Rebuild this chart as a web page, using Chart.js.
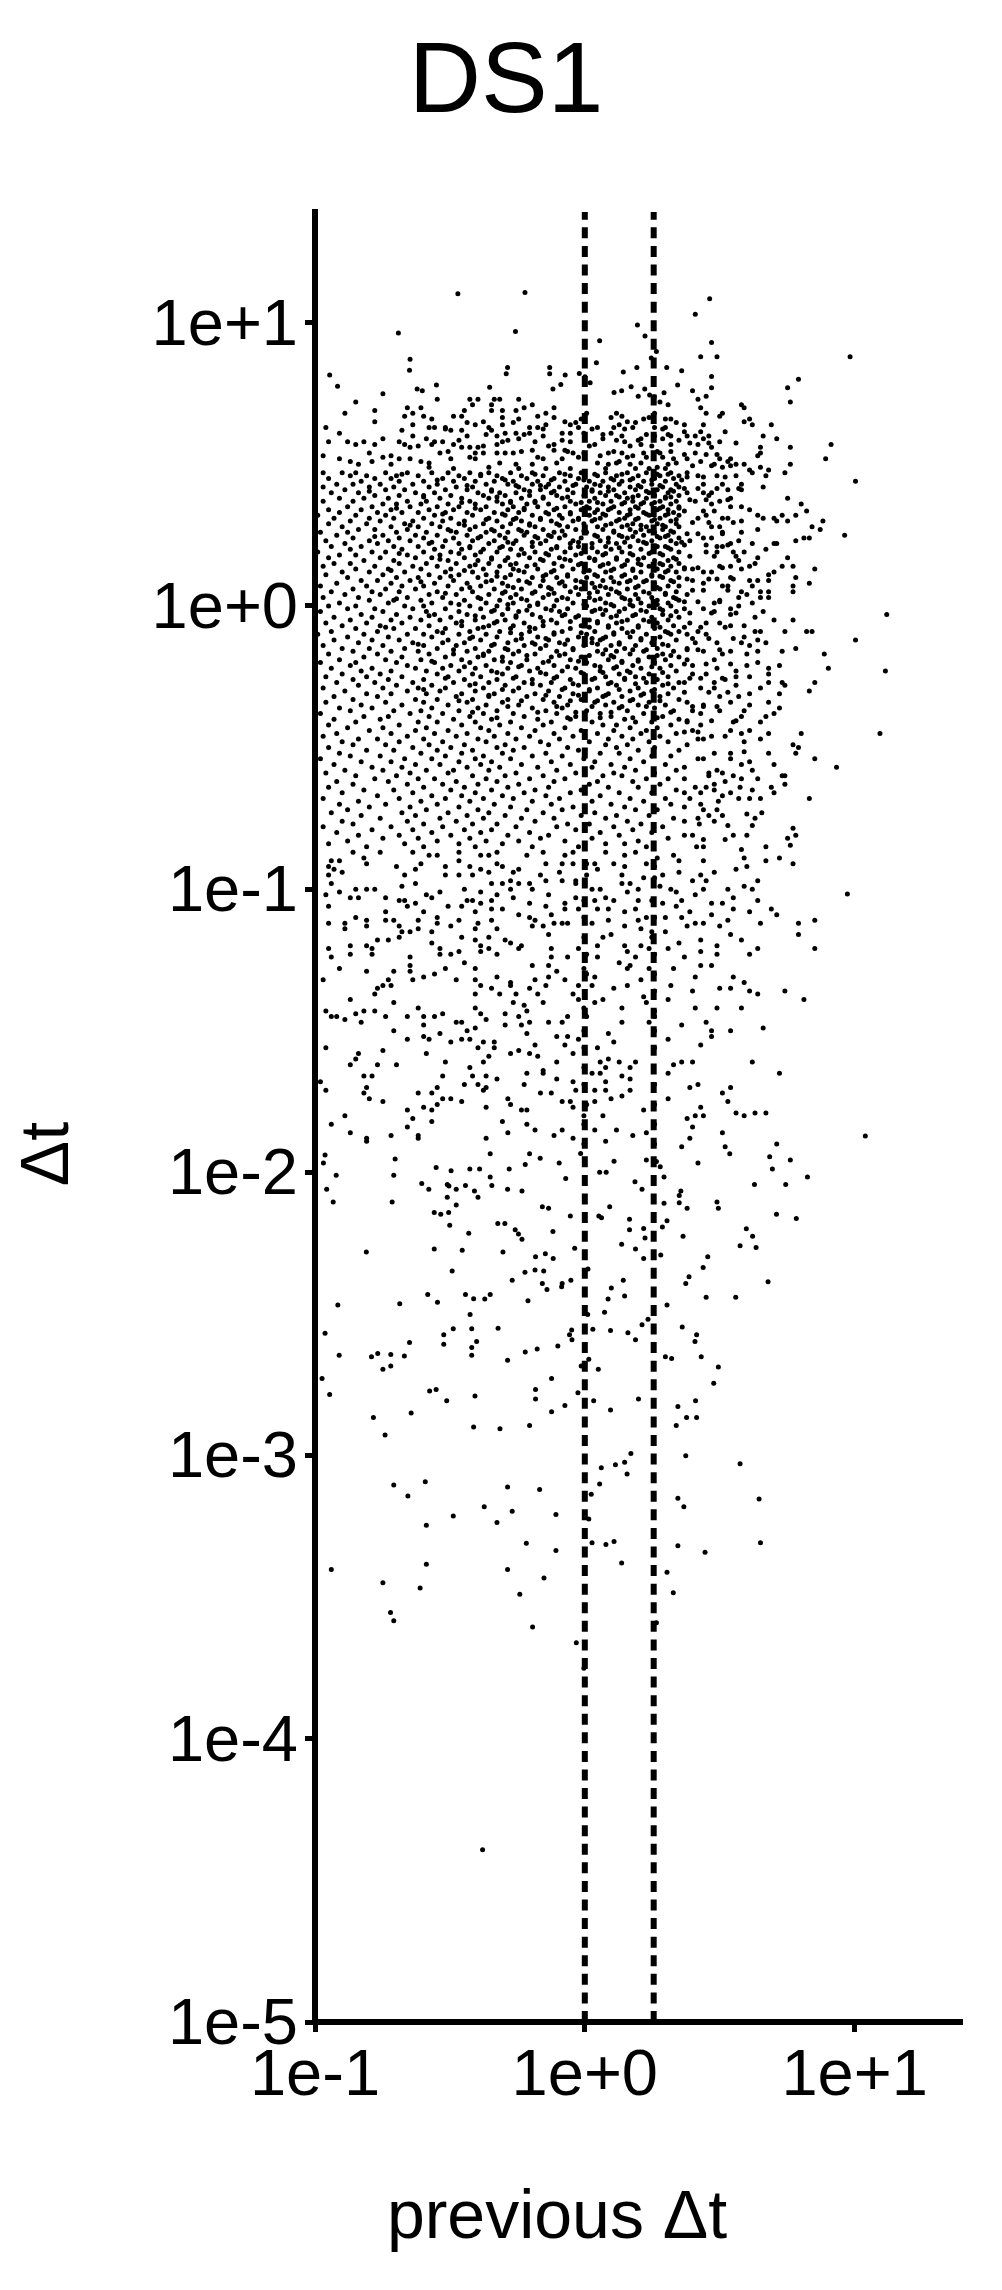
<!DOCTYPE html>
<html>
<head>
<meta charset="utf-8">
<style>
  html, body { margin: 0; padding: 0; background: #fff; }
  canvas { display: block; }
</style>
<script src="https://cdn.jsdelivr.net/npm/chart.js@4/dist/chart.umd.min.js"></script>
</head>
<body>
<canvas id="myChart" width="1002" height="2290"></canvas>
<script>
// all values are log10(previous dt), log10(dt)
const lowPoints = [
[-.963,-1.939],[-.969,-1.967],[-.705,-1.953],[-.355,-1.934],[-.21,-1.934],[-.171,-1.95],[-.022,-1.933],[-.101,-1.967],[.101,-1.961],[.22,-1.956],[.257,-1.962],[.271,-1.98],[.41,-1.967],[.527,-1.934],[.674,-1.945],[.75,-1.956],
[-.922,-2.01],[-.71,-2.01],[-.554,-1.983],[-.499,-1.994],[-.43,-1.988],[-.394,-1.988],[-.355,-2.016],[-.285,-1.988],[-.226,-1.972],[.048,-2],[.072,-2],[-.077,-2.022],[.285,-2.016],[.684,-1.988],[.813,-2.016],
[-.607,-2.039],[-.581,-2.06],[-.513,-2.043],[-.507,-2.048],[-.48,-2.06],[-.446,-2.046],[-.413,-2.066],[-.349,-2.046],[-.291,-2.06],[-.238,-2.066],[-.957,-2.06],[.178,-2.033],[.204,-2.06],[.347,-2.066],[.341,-2.082],[.618,-2.043],[.733,-2.043],
[-.933,-2.105],[-.716,-2.105],[-.513,-2.088],[-.4,-2.088],[-.48,-2.115],[-.163,-2.121],[-.14,-2.127],[.085,-2.121],[.285,-2.109],[.341,-2.107],[.37,-2.127],[.48,-2.105],[.485,-2.127],
[-.561,-2.142],[-.537,-2.148],[-.508,-2.142],[-.06,-2.154],[.045,-2.154],[.055,-2.16],[.158,-2.166],[.296,-2.171],[.699,-2.148],[.772,-2.163],
[-.504,-2.187],[-.327,-2.181],[-.301,-2.181],[-.263,-2.203],[-.251,-2.218],[-.238,-2.236],[-.434,-2.215],[-.124,-2.209],[.158,-2.203],[.21,-2.198],[.279,-2.193],[.215,-2.232],[.355,-2.226],[.588,-2.199],[.611,-2.226],
[-.561,-2.271],[-.458,-2.275],[-.811,-2.281],[-.308,-2.281],[-.044,-2.268],[.129,-2.254],[.18,-2.271],[.565,-2.259],[.624,-2.265],
[-.188,-2.298],[-.152,-2.287],[-.123,-2.304],[.21,-2.304],[.273,-2.292],[.446,-2.298],
[-.495,-2.348],[-.227,-2.353],[-.19,-2.345],[-.158,-2.348],[.005,-2.341],[.429,-2.336],
[-.274,-2.381],[-.163,-2.392],[-.09,-2.392],[-.092,-2.404],[-.058,-2.381],[-.146,-2.414],[.135,-2.381],[.091,-2.408],[.377,-2.369],[.365,-2.392],[.668,-2.386],
[-.585,-2.431],[-.446,-2.431],[-.416,-2.446],[-.375,-2.447],[-.355,-2.431],[-.216,-2.453],[-.549,-2.459],[-.688,-2.464],[-.916,-2.468],[.079,-2.447],[.14,-2.437],[.44,-2.441],[.549,-2.441],
[-.429,-2.502],[.004,-2.502],[.066,-2.494],[.296,-2.468],[.226,-2.519],
[-.491,-2.552],[-.423,-2.552],[-.326,-2.55],[-.963,-2.568],[-.526,-2.573],[-.055,-2.557],[.023,-2.554],[.088,-2.558],[.204,-2.538],[.152,-2.566],[.352,-2.546],[.405,-2.573],[-.063,-2.573],
[-.652,-2.601],[-.526,-2.607],[-.405,-2.597],[-.423,-2.618],[-.054,-2.591],[-.106,-2.613],[.18,-2.591],[.399,-2.597],[-.182,-2.624],[-.226,-2.634],
[-.911,-2.646],[-.792,-2.651],[-.769,-2.64],[-.721,-2.643],[-.671,-2.648],[-.423,-2.646],[-.291,-2.663],[.29,-2.651],[.313,-2.657],[.422,-2.651],[.008,-2.66],[-.02,-2.684],
[-.75,-2.695],[-.721,-2.684],[.043,-2.695],[.485,-2.687],[-.974,-2.728],[-.129,-2.728],[.468,-2.745],
[-.578,-2.772],[-.554,-2.767],[-.188,-2.767],[-.032,-2.778],[-.946,-2.784],[-.411,-2.79],[-.515,-2.806],[-.188,-2.8],[.026,-2.806],[.191,-2.8],[.401,-2.806],
[-.08,-2.823],[-.129,-2.845],[.088,-2.839],[.336,-2.827],[-.646,-2.85],[-.785,-2.866],[.368,-2.866],[.405,-2.866],[-.416,-2.899],[-.319,-2.905],[-.21,-2.894],[.33,-2.894],[-.742,-2.927],
[.163,-2.993],[.365,-3.001],[.14,-3.024],[.106,-3.032],[.054,-3.043],[.565,-3.029],[.149,-3.065],
[-.594,-3.092],[-.71,-3.104],[.048,-3.1],[-.291,-3.111],[-.173,-3.12],[-.658,-3.143],[.017,-3.137],[.336,-3.151],[.635,-3.153],
[-.377,-3.181],[-.274,-3.197],[-.491,-3.213],[-.113,-3.208],[-.33,-3.236],[-.59,-3.246],[.008,-3.224],[.358,-3.181],
[-.222,-3.31],[-.113,-3.335],[.02,-3.308],[.071,-3.314],[.101,-3.303],[.336,-3.318],[.436,-3.341],[.64,-3.308],
[-.59,-3.384],[-.94,-3.402],[-.291,-3.402],[.129,-3.379],[.296,-3.412],[-.157,-3.432],[-.75,-3.449],[-.613,-3.468],[-.246,-3.49],[.319,-3.484],
[-.722,-3.554],[-.71,-3.583],[-.199,-3.605],[.257,-3.59],[-.038,-3.661],[-.01,-3.751],[-.383,-4.392]
];

const middlePoints = [
[-.86,-.87],[-.82,-.89],[-.76,-.87],[-.64,-.87],[-.58,-.88],[-.55,-.88],[-.47,-.87],[-.39,-.88],[-.36,-.88],[-.33,-.87],[-.22,-.88],[-.16,-.87],[-.08,-.88],[-.05,-.87],[.07,-.87],[.14,-.88],[.18,-.87],[.26,-.89],[.32,-.88],[.43,-.9],[.58,-.89],[.66,-.9],[.71,-.89],
[-.94,-.9],[-.91,-.9],[-.95,-.92],[-.81,-.91],[-.7,-.92],[-.61,-.91],[-.63,-.93],[-.47,-.9],[-.52,-.92],[-.43,-.92],[-.39,-.93],[-.33,-.91],[-.31,-.92],[-.25,-.93],[-.15,-.91],[-.09,-.91],[-.05,-.91],[0,-.91],[.03,-.91],[.1,-.91],[.14,-.92],[.22,-.91],[.25,-.92],[.34,-.9],[.55,-.93],[.59,-.92],[.76,-.91],
[-.93,-.93],[-.9,-.94],[-.95,-.95],[-.67,-.95],[-.52,-.95],[-.47,-.95],[-.36,-.94],[-.42,-.95],[-.27,-.94],[-.17,-.95],[-.1,-.94],[-.09,-.97],[-.04,-.97],[0,-.95],[.04,-.93],[.13,-.95],[.21,-.96],[.25,-.96],[.28,-.95],[.34,-.94],[.42,-.95],[.47,-.94],
[-.94,-.98],[-.68,-.99],[-.63,-.98],[-.35,-.98],[-.31,-.98],[-.28,-.97],[-.25,-.98],[-.21,-.98],[-.15,-.97],[-.04,-.98],[.13,-.98],[.16,-.98],[.39,-.97],[.44,-.97],[.63,-.97],[.58,-.99],[.61,-1],
[-.96,-1.02],[-.91,-1.01],[-.85,-1],[-.81,-1],[-.78,-1],[-.84,-1.03],[-.87,-1.03],[-.59,-1.02],[-.57,-1.03],[-.54,-1.01],[-.45,-1],[-.39,-1.01],[-.33,-1.02],[-.28,-1],[-.2,-1],[-.14,-1.02],[.02,-1],[.05,-1],[.15,-1.01],[.19,-1],[.27,-.99],[.31,-1],[.33,-1.01],[.4,-1.02],[.43,-1],[.52,-1],[.54,-1.03],
[-.74,-1.03],[-.69,-1.04],[-.67,-1.04],[-.63,-1.05],[-.66,-1.06],[-.95,-1.06],[-.51,-1.06],[-.44,-1.04],[-.46,-1.06],[-.39,-1.05],[-.35,-1.04],[-.42,-1.04],[-.35,-1.07],[-.31,-1.07],[-.27,-1.03],[-.21,-1.05],[-.15,-1.06],[-.08,-1.05],[-.04,-1.03],[-.01,-1.04],[.03,-1.04],[.07,-1.03],[.1,-1.04],[.19,-1.04],[.24,-1.04],[.28,-1.05],[.35,-1.04],[.33,-1.06],[.46,-1.05],[.5,-1.05],[.63,-1.04],
[-.74,-1.08],[-.6,-1.08],[-.41,-1.08],[-.25,-1.09],[-.13,-1.09],[-.08,-1.07],[-.03,-1.07],[.04,-1.07],[.08,-1.07],[.14,-1.08],[.18,-1.07],[.29,-1.1],[.38,-1.08],[.46,-1.09],[.54,-1.07],[.6,-1.08],[.68,-1.07],[.7,-1.09],
[-.95,-1.12],[-.89,-1.12],[-.85,-1.1],[-.81,-1.11],[-.74,-1.11],[-.71,-1.11],[-.62,-1.11],[-.55,-1.1],[-.47,-1.11],[-.4,-1.12],[-.35,-1.11],[-.21,-1.1],[-.19,-1.11],[-.12,-1.12],[-.09,-1.12],[-.07,-1.12],[-.01,-1.1],[.02,-1.12],[.08,-1.11],[.19,-1.11],[.22,-1.1],[.25,-1.1],[.35,-1.1],[.37,-1.13],[.4,-1.12],[.43,-1.12],[.52,-1.11],[.64,-1.12],[.78,-1.12],[.84,-1.11],
[-.89,-1.14],[-.81,-1.13],[-.69,-1.13],[-.55,-1.12],[-.5,-1.13],[-.41,-1.14],[-.33,-1.14],[-.2,-1.13],[-.16,-1.13],[.14,-1.13],[.49,-1.13],[-.62,-1.14],[-.57,-1.15],[-.68,-1.15],[-.65,-1.15],[-.69,-1.17],[.2,-1.14],[.24,-1.15],[.29,-1.15],[.78,-1.16],
[-.73,-1.18],[-.77,-1.18],[-.46,-1.17],[-.41,-1.18],[-.36,-1.17],[-.14,-1.16],[-.01,-1.17],[.06,-1.17],[.09,-1.16],[.24,-1.17],[.34,-1.19],[.42,-1.18],[.53,-1.16],[.57,-1.18],
[-.87,-1.2],[-.81,-1.2],[-.79,-1.21],[-.57,-1.19],[-.54,-1.21],[-.3,-1.18],[-.28,-1.19],[-.24,-1.2],[-.13,-1.21],[-.03,-1.21],[.04,-1.2],[.14,-1.2],[.2,-1.2],[.48,-1.2],[-.95,-1.21],[-.39,-1.2],[-.36,-1.21],
[-.94,-1.24],[-.87,-1.23],[-.79,-1.23],[-.47,-1.22],[-.39,-1.22],[-.54,-1.23],[-.5,-1.23],[-.33,-1.23],[-.25,-1.21],[-.07,-1.24],[0,-1.23],[.04,-1.24],[.15,-1.22],[.18,-1.24],[.23,-1.21],[.25,-1.23],[.3,-1.21],[.42,-1.22],[.48,-1.23],[.6,-1.23],[.63,-1.21],[.84,-1.21],
[-.65,-1.24],[-.45,-1.26],[-.13,-1.24],[.36,-1.24],[.42,-1.27],[.46,-1.27],
[-.91,-1.28],[-.81,-1.29],[-.71,-1.29],[-.65,-1.27],[-.65,-1.29],[-.52,-1.28],[-.41,-1.28],[-.2,-1.27],[-.14,-1.27],[-.01,-1.28],[.12,-1.26],[.16,-1.27],[.15,-1.28],[.23,-1.28],[.32,-1.28],
[-.97,-1.32],[-.64,-1.32],[-.6,-1.31],[-.56,-1.3],[-.48,-1.32],[-.41,-1.32],[-.39,-1.34],[-.33,-1.31],[-.28,-1.33],[-.19,-1.32],[-.14,-1.31],[-.11,-1.29],[-.08,-1.32],[0,-1.3],[.03,-1.31],[.2,-1.32],[.25,-1.3],[.4,-1.31],[.54,-1.31],
[-.73,-1.32],[-.75,-1.34],[-.77,-1.35],[-.72,-1.34],[-.78,-1.37],[-.41,-1.37],[-.35,-1.35],[-.32,-1.37],[-.28,-1.34],[-.26,-1.37],[-.21,-1.35],[-.18,-1.37],[-.15,-1.34],[-.03,-1.34],[.02,-1.34],[.1,-1.35],[.15,-1.34],[.31,-1.34],[.39,-1.36],[.49,-1.35],[.53,-1.35],[.58,-1.33],[.6,-1.36],[.63,-1.37],[.73,-1.36],
[-.87,-1.39],[-.71,-1.4],[-.05,-1.37],[-.03,-1.39],[.06,-1.39],[.03,-1.4],[.21,-1.38],[.25,-1.36],[.3,-1.39],[.8,-1.39],[-.27,-1.4],[-.23,-1.41],[-.16,-1.4],
[-.96,-1.43],[-.85,-1.44],[-.82,-1.43],[-.78,-1.43],[-.62,-1.42],[-.41,-1.42],[-.22,-1.43],[-.01,-1.42],[.13,-1.42],[.22,-1.4],[.25,-1.43],[.4,-1.42],[.48,-1.42],[.57,-1.42],
[-.94,-1.45],[-.92,-1.45],[-.89,-1.46],[-.74,-1.45],[-.66,-1.45],[-.6,-1.45],[-.56,-1.45],[-.53,-1.44],[-.39,-1.44],[-.37,-1.46],[-.3,-1.44],[-.25,-1.45],[-.07,-1.45],[0,-1.45],[.25,-1.45],
[-.83,-1.47],[-.6,-1.48],[-.48,-1.47],[-.46,-1.47],[-.41,-1.49],[-.3,-1.48],[-.24,-1.48],[-.21,-1.47],[-.14,-1.47],[-.09,-1.47],[.13,-1.47],[.23,-1.47],[.35,-1.48],[.44,-1.47],[.65,-1.49],
[-.71,-1.5],[-.54,-1.51],[-.44,-1.5],[-.22,-1.51],[-.01,-1.5],[.08,-1.51],[.25,-1.5],[.46,-1.5],[.53,-1.5],[-.11,-1.52],[-.07,-1.52],[-.03,-1.53],
[-.66,-1.53],[-.6,-1.52],[-.58,-1.53],[-.5,-1.54],[-.46,-1.53],[-.43,-1.53],[-.38,-1.54],[-.34,-1.54],[.3,-1.53],[.46,-1.52],[.42,-1.55],[.1,-1.54],[-.19,-1.55],[-.08,-1.55],
[-.96,-1.56],[-.75,-1.57],[-.84,-1.58],[-.59,-1.58],[-.4,-1.56],[-.34,-1.56],[-.28,-1.58],[-.25,-1.57],[-.21,-1.58],[-.05,-1.58],[-.01,-1.56],[.04,-1.56],[.25,-1.56],
[-.85,-1.6],[-.87,-1.62],[-.77,-1.62],[-.7,-1.62],[-.52,-1.61],[-.36,-1.59],[-.38,-1.61],[-.18,-1.59],[-.11,-1.61],[.05,-1.61],[.08,-1.6],[.12,-1.61],[.18,-1.61],[.35,-1.61],[.39,-1.61],[.61,-1.61],
[-.43,-1.63],[-.22,-1.65],[-.16,-1.64],[-.01,-1.63],[.02,-1.65],[.05,-1.65],[.07,-1.63],[.16,-1.63],[.3,-1.65],[.32,-1.62],[.71,-1.65],
[-.82,-1.66],[-.79,-1.66],[-.53,-1.66],[-.42,-1.66],[-.37,-1.66],[-.33,-1.67],[-.16,-1.65],[-.11,-1.67],[-.05,-1.68],[.07,-1.68],[.13,-1.66],[.16,-1.67],[-.98,-1.68],
[-.81,-1.7],[-.45,-1.69],[-.4,-1.69],[-.37,-1.7],[-.23,-1.69],[-.01,-1.69],[.25,-1.69],[.38,-1.7],[.41,-1.69],[.53,-1.7],
[-.96,-1.71],[-.82,-1.72],[-.62,-1.72],[-.55,-1.7],[-.57,-1.72],[-.38,-1.71],[-.17,-1.72],[-.13,-1.72],[-.04,-1.71],[.03,-1.71],[.07,-1.71],[.16,-1.71],[.5,-1.72],
[-.8,-1.74],[-.75,-1.75],[-.53,-1.74],[-.5,-1.74],[-.46,-1.75],[-.29,-1.74],[.09,-1.74],[.13,-1.73],[.3,-1.74],[-.09,-1.75],[-.06,-1.75],[0,-1.76],[.03,-1.75],[.52,-1.75],
[-.66,-1.78],[-.6,-1.77],[-.57,-1.78],[-.55,-1.76],[-.37,-1.77],[-.28,-1.76],[-.24,-1.78],[-.22,-1.78],[-.05,-1.77],[.21,-1.78],[.25,-1.76],[.42,-1.77],
[-.89,-1.8],[-.64,-1.81],[.55,-1.79],[.58,-1.8],[.62,-1.79],[.66,-1.79],[.06,-1.8],[.37,-1.81],[.4,-1.8],[.43,-1.8],[-.01,-1.8],
[-.94,-1.83],[-.57,-1.82],[-.31,-1.82],[-.66,-1.84],[-.22,-1.83],[-.01,-1.83],[.25,-1.83],[.39,-1.84],[-.19,-1.85],[-.09,-1.85],[.11,-1.85],[.03,-1.85],
[-.87,-1.86],[-.72,-1.87],[-.81,-1.88],[-.62,-1.87],[-.29,-1.86],[-.12,-1.87],[.17,-1.87],[.22,-1.86],[.5,-1.86],[.38,-1.88],
[-.81,-1.89],[-.62,-1.88],[-.37,-1.88],[-.05,-1.88],[.07,-1.89],[-.01,-1.9],[.25,-1.9],[.7,-1.9],[.35,-1.91],[.51,-1.91],
[.47,-.52],[.53,-.52],[.58,-.515],[.67,-.52],[.77,-.52],[.84,-.54],[.92,-.57],[.41,-.54],[.43,-.54],[.53,-.54],[.57,-.56],[.6,-.55],[.61,-.58],[.69,-.56],[.36,-.57],[.36,-.61],[.45,-.59],[.48,-.58],[.5,-.59],[.45,-.6],[.54,-.6],[.57,-.61],[.63,-.61],[.72,-.6],[.73,-.6],[.51,-.62],[.47,-.63],[.68,-.64],[.73,-.63],[.4,-.64],[.44,-.64],[.47,-.65],[.565,-.64],[.61,-.65],[.69,-.66],[.53,-.66],[.42,-.66],[.36,-.66],[.38,-.68],[.5,-.67],[.56,-.68],[.6,-.68],[.64,-.68],[.82,-.68],[.485,-.69],[.42,-.7],[.36,-.71],[.48,-.72],[.43,-.72],[.59,-.735],[.645,-.73],[.5,-.74],[.62,-.75],[.41,-.75],[.45,-.74],[.47,-.76],[.36,-.76],[.415,-.77],[.52,-.775],[.61,-.775],[.76,-.785],[.77,-.81],[.74,-.82],[.39,-.81],[.36,-.81],[.43,-.825],[.51,-.825],[.54,-.81],[.59,-.81],[.75,-.845],[.66,-.85],[.405,-.85],[.43,-.85],[.57,-.86],
[.96,-1.017],[1.026,-1.872]
];

const topPoints = [
[-.474,1.102],[-.227,1.107],[.453,1.085],[-.693,.964],[-.262,.969],[.187,.992],[.215,.953],[.048,.936],[.257,.898],[.238,.875],[-.65,.871],[-.652,.832],[.036,.859],[.185,.842],[.295,.842],[.135,.826],[-.136,.842],[-.136,.82],[-.291,.842],[-.296,.82],[-.079,.815],[-.027,.821],[-.006,.809],[.013,.788],[-.946,.815],[-.917,.776],[-.553,.78],[-.624,.766],[-.605,.76],[-.357,.772],[-.095,.782],[-.124,.766],[.164,.774],[.101,.754],[.129,.76],[-.75,.749],[.335,.78],[.214,.766],[.232,.745],[.249,.739],[.285,.753],
[-.55,.73],[-.43,.73],[-.4,.73],[-.34,.73],[-.32,.73],[-.25,.73],[.19,.74],[-.85,.72],[-.42,.71],[.27,.72],[-.61,.7],[-.66,.7],[-.23,.7],[-.2,.71],[-.35,.71],[-.12,.7],[.3,.71],[-.78,.69],[-.35,.69],[-.31,.69],[-.26,.69],[-.45,.69],[-.89,.68],[-.64,.68],[-.6,.67],[-.49,.67],[-.46,.67],[-.18,.67],[-.15,.68],[-.67,.67],[-.57,.66],[-.25,.66],[-.02,.66],[0,.68],[.11,.68],[.13,.67],[.25,.68],[.29,.66],[.31,.66],[.21,.66],
[-.96,.63],[-.78,.65],[-.64,.64],[-.58,.63],[-.56,.63],[-.52,.63],[-.5,.62],[-.41,.64],[-.38,.65],[-.36,.63],[-.35,.62],[-.31,.64],[-.21,.63],[-.21,.61],[-.18,.63],[-.15,.64],[-.08,.65],[-.06,.64],[-.03,.63],[-.01,.61],[.04,.63],[.1,.63],[.12,.64],[.15,.65],[.17,.63],[.25,.63],[.25,.6],[.29,.63],
[-.91,.61],[-.68,.62],[-.64,.6],[-.46,.62],[-.44,.6],[-.33,.6],[-.3,.61],[-.26,.61],[-.25,.59],[-.09,.61],[-.06,.61],[.09,.61],[.13,.6],[.2,.59],[.31,.6],[-.75,.59],
[-.95,.58],[-.88,.58],[-.85,.57],[-.82,.58],[-.78,.57],[-.69,.58],[-.67,.57],[-.65,.56],[-.59,.59],[-.56,.58],[-.53,.58],[-.57,.57],[-.49,.57],[-.46,.56],[-.43,.56],[-.4,.56],[-.33,.57],[-.31,.58],[-.19,.58],[-.16,.6],[-.12,.57],[-.06,.58],[.03,.57],[.06,.59],[.14,.58],[.2,.57],[.28,.59],[.31,.57],
[-.97,.53],[-.91,.52],[-.8,.54],[-.72,.53],[-.54,.54],[-.41,.54],[-.38,.54],[-.33,.54],[-.3,.54],[-.27,.54],[-.2,.55],[-.12,.55],[-.08,.55],[-.05,.54],[-.01,.54],[.05,.53],[.08,.54],[.13,.54],[.17,.53],[.21,.54],[.27,.54],[.32,.52],
[-.87,.51],[-.79,.51],[-.69,.52],[-.65,.52],[-.61,.51],[-.5,.52],[-.41,.52],[-.09,.52],[-.16,.52],[.12,.51],
[-.84,.5],[-.72,.5],[-.58,.49],[-.26,.5],[-.2,.5],[-.36,.49],[.08,.5],[.16,.5],[.26,.49],[.3,.5]
];

const rightPoints = [
[.4,1.03],[.46,.93],[.42,.88],[.48,.88],[.97,.88],[.35,.83],[.46,.81],[.78,.8],[.74,.77],[.39,.76],[.46,.77],[.44,.74],[.41,.73],[.75,.72],[.57,.71],[.58,.7],[.42,.7],[.44,.68],[.5,.68],[.49,.67],[.6,.66],[.58,.65],[.61,.64],[.68,.64],[.43,.64],[.36,.64],[.45,.6],[.37,.6],[.4,.6],[.65,.6],[.7,.59],[.43,.59],[.49,.58],[.41,.57],[.46,.56],[.75,.56],[.9,.57],[.64,.56],[.64,.54],[.63,.53],[.88,.52],[.4,.54],[.49,.52],[.53,.52],[.52,.51],[.42,.51],[.47,.5],[.37,.52],[.55,.5],[.58,.5],[.5,.49],[.6,.48],[.61,.47],[.64,.49],[.67,.48],[.75,.5],[.73,.47],[.66,.46],[.55,.46],[.48,.46],[.37,.47],[.41,.46],[.99,.44],[.5,.43],[.52,.41],[.57,.43],[.57,.41],[.65,.42],[.43,.43],[.43,.4],[.46,.4],[.37,.4],[.45,.39],[.53,.38],[.74,.38],[.4,.37],[.49,.37],[.46,.36],[.79,.36],[.57,.35],[.6,.34],[.53,.35],[.81,.335],[.63,.32],[.65,.31],[.69,.31],[.72,.32],[.77,.32],[.7,.3],[.74,.3],[.52,.31],[.5,.31],[.41,.31],[.44,.32],[.57,.3],[.87,.3],[.83,.28],[.86,.27],[.63,.27],[.49,.28],[.46,.28],[.57,.26],[.5,.26],[.95,.25],[.82,.24],[.8,.24],[.77,.23],[.7,.22],[.69,.22],[.61,.22],[.56,.23],[.53,.22],[.5,.21],[.48,.21],[.46,.24],[.43,.24],[.38,.23],[.66,.2],[.54,.19],[.58,.19],[.44,.19],[.48,.19],[.63,.17],[.74,.17],[.56,.16],[.62,.15],[.6,.14],[.76,.14],[.72,.14],[.84,.13],[.49,.14],[.46,.12],[.53,.14],[.43,.12],[.39,.13],[.36,.13],[.57,.13],[.67,.11],[.69,.12],[.63,.09],[.6,.09],[.53,.1],[.5,.07],[.43,.08],[.39,.09],[.82,.08],[.77,.1],[.76,.07],[.76,.05],[.61,.07],[.67,.09],[.64,.05],[.67,.05],[.57,.05],[.59,.04],[.56,.03],[.52,.07],[.67,.03],[.64,.03],[.61,.01],[.56,0],[.49,.02],[.47,.01],[.37,.04],
[1.105,-.03],[.65,-.02],[.62,-.04],[.53,-.01],[.53,-.03],[.47,-.02],[.43,-.01],[.36,-.01],[.69,-.05],[.76,-.05],[.49,-.06],[.53,-.07],[.58,-.07],[.44,-.06],[.38,-.06],[.73,-.09],[.81,-.09],[.83,-.09],[.62,-.09],[.64,-.09],[.44,-.1],[.41,-.09],[.37,-.1],[.99,-.12],[.58,-.11],[.48,-.13],[.63,-.12],[.66,-.13],[.57,-.13],[.6,-.14],[.77,-.15],[.4,-.13],[.37,-.15],[.53,-.16],[.63,-.16],[.72,-.16],[.875,-.17],[.43,-.16],[.59,-.17],[.5,-.17],[.47,-.19],[.37,-.19],[.63,-.2],[.71,-.21],[.89,-.22],[.59,-.21],[.48,-.22],[.39,-.21],[1.1,-.23],[.67,-.22],[.55,-.23],[.67,-.24],[.6,-.25],[.55,-.25],[.44,-.24],[.39,-.24],[.51,-.26],[.47,-.27],[.55,-.28],[.72,-.27],[.73,-.28],[.84,-.27],[.36,-.27],[.67,-.27],[.64,-.29],[.82,-.3],[.42,-.29],[.47,-.29],[.49,-.32],[.6,-.31],[.56,-.32],[.71,-.31],[.37,-.34],[.43,-.35],[.53,-.34],[.67,-.34],[.6,-.35],[.58,-.37],[.71,-.36],[.49,-.37],[.39,-.37],[.42,-.38],[.69,-.38],[.66,-.39],[.64,-.41],[.57,-.39],[.37,-.41],[.54,-.41],[.42,-.42],[.39,-.44],[.53,-.44],[.6,-.44],[.67,-.45],[1.08,-.45],[.79,-.45],[.57,-.45],[.46,-.46],[.51,-.46],[.41,-.47],[.43,-.47],[.64,-.47],[.58,-.48],[.76,-.49],[.78,-.5],[.37,-.49]
];

// dense part of the cloud, one row per dt: [log10 dt, log10 prev, log10 prev, ...]
const denseRows = [
[.47,-.97,-.9,-.85,-.74,-.66,-.57,-.51,-.43,-.36,-.28,-.2,-.1,-.02,.07,.15,.22,.31],
[.46,-.87,-.81,-.7,-.62,-.47,-.39,-.33,-.24,-.16,-.06,.04,.11,.19,.27,.34],
[.45,-.95,-.78,-.72,-.53,-.45,-.31,-.22,-.12,-.03,.09,.17,.25,.32],
[.44,-.83,-.69,-.6,-.49,-.41,-.34,-.27,-.18,-.08,.01,.06,.13,.21,.29],
[.43,-.92,-.86,-.76,-.64,-.55,-.37,-.29,-.2,-.14,-.04,.03,.12,.24,.33],
[.42,-.97,-.8,-.71,-.58,-.48,-.42,-.25,-.15,-.1,0,.08,.16,.2,.28,.34],
[.41,-.89,-.74,-.67,-.52,-.44,-.35,-.23,-.17,-.07,.02,.1,.18,.26,.31],
[.4,-.94,-.84,-.63,-.56,-.4,-.32,-.26,-.13,-.05,.05,.14,.23,.3],
[.39,-.78,-.69,-.6,-.5,-.38,-.3,-.21,-.11,-.01,.07,.11,.19,.25,.34],
[.38,-.91,-.82,-.73,-.54,-.46,-.36,-.24,-.16,-.09,.03,.15,.22,.29],
[.37,-.97,-.86,-.66,-.59,-.43,-.33,-.28,-.19,-.06,.01,.09,.17,.27,.33],
[.36,-.75,-.7,-.61,-.51,-.41,-.31,-.22,-.14,-.04,.06,.13,.2,.24,.31],
[.35,-.88,-.79,-.65,-.55,-.47,-.37,-.27,-.18,-.08,0,.1,.18,.28,.34],
[.34,-.95,-.83,-.72,-.58,-.49,-.39,-.29,-.23,-.12,-.02,.04,.08,.16,.26,.3],
[.33,-.91,-.77,-.68,-.62,-.52,-.44,-.34,-.25,-.15,-.06,.03,.12,.21,.32],
[.32,-.99,-.85,-.74,-.56,-.42,-.3,-.2,-.1,.01,.07,.15,.23,.29,.34],
[.31,-.93,-.8,-.71,-.6,-.5,-.36,-.26,-.17,-.09,-.03,.05,.14,.19,.27],
[.3,-.87,-.76,-.64,-.53,-.45,-.33,-.24,-.13,-.05,.02,.11,.24,.31],
[.29,-.95,-.81,-.67,-.57,-.47,-.38,-.28,-.21,-.11,-.01,.09,.17,.26,.33],
[.28,-.9,-.72,-.62,-.54,-.41,-.31,-.19,-.07,.04,.13,.22,.29,.34],
[.27,-.84,-.78,-.66,-.51,-.43,-.35,-.25,-.16,-.04,.06,.16,.2,.28],
[.26,-.98,-.88,-.7,-.59,-.48,-.37,-.29,-.22,-.12,0,.1,.18,.25,.32],
[.25,-.92,-.75,-.63,-.55,-.44,-.32,-.23,-.14,-.08,.03,.12,.21,.3],
[.24,-.86,-.69,-.6,-.49,-.4,-.3,-.18,-.1,-.02,.08,.15,.27,.34],
[.23,-.96,-.8,-.73,-.65,-.52,-.42,-.34,-.26,-.15,-.05,.05,.19,.24,.31],
[.22,-.89,-.77,-.58,-.47,-.36,-.27,-.17,-.06,.02,.11,.22,.33],
[.21,-.94,-.83,-.71,-.62,-.53,-.43,-.31,-.2,-.11,-.03,.07,.16,.26,.29],
[.2,-.87,-.68,-.56,-.46,-.38,-.28,-.24,-.13,-.01,.09,.2,.31],
[.19,-.99,-.79,-.74,-.6,-.5,-.39,-.33,-.19,-.08,.04,.13,.24,.34],
[.18,-.91,-.85,-.66,-.54,-.41,-.25,-.14,-.04,.06,.17,.28],
[.17,-.95,-.76,-.63,-.57,-.45,-.35,-.29,-.21,-.1,.01,.11,.21,.32],
[.16,-.82,-.71,-.51,-.4,-.3,-.16,-.06,.03,.15,.25,.3],
[.15,-.93,-.87,-.69,-.59,-.48,-.36,-.26,-.12,-.02,.08,.19,.27,.34],
[.14,-.97,-.78,-.64,-.55,-.43,-.32,-.22,-.09,.05,.13,.23,.31],
[.13,-.85,-.73,-.61,-.5,-.38,-.27,-.18,-.05,.1,.17,.26],
[.12,-.9,-.8,-.67,-.52,-.42,-.33,-.23,-.13,-.01,.07,.2,.29,.33],
[.11,-.96,-.75,-.58,-.47,-.37,-.28,-.15,-.07,.03,.14,.24],
[.1,-.88,-.7,-.62,-.54,-.4,-.3,-.2,-.11,0,.09,.18,.28,.34],
[.09,-.83,-.77,-.65,-.49,-.35,-.25,-.16,-.04,.06,.16,.22,.31],
[.08,-.92,-.72,-.56,-.44,-.31,-.21,-.1,.02,.12,.25],
[.07,-.98,-.81,-.68,-.6,-.51,-.39,-.29,-.17,-.08,.05,.19,.3,.34],
[.06,-.86,-.74,-.63,-.46,-.34,-.24,-.13,-.02,.09,.15,.27],
[.05,-.94,-.79,-.69,-.55,-.42,-.3,-.19,-.06,.04,.11,.21,.33],
[.04,-.89,-.76,-.58,-.48,-.36,-.26,-.14,-.03,.08,.18,.29],
[.03,-.97,-.84,-.66,-.53,-.4,-.28,-.16,-.09,.01,.13,.24,.32],
[.02,-.8,-.71,-.61,-.45,-.32,-.22,-.11,.03,.16,.26,.34],
[.01,-.91,-.73,-.57,-.5,-.37,-.27,-.18,-.05,.07,.2,.3],
[0,-.95,-.85,-.67,-.6,-.43,-.33,-.21,-.12,0,.1,.17,.23,.31],
[-.01,-.88,-.78,-.64,-.52,-.39,-.29,-.15,-.07,.05,.14,.27],
[-.02,-.98,-.75,-.59,-.47,-.35,-.25,-.1,.02,.12,.22,.33],
[-.03,-.83,-.7,-.56,-.44,-.31,-.2,-.08,.06,.18,.28],
[-.04,-.93,-.79,-.65,-.5,-.38,-.26,-.17,-.04,.09,.24,.34],
[-.05,-.87,-.72,-.61,-.54,-.41,-.3,-.13,.01,.15,.21,.3],
[-.06,-.96,-.81,-.68,-.48,-.34,-.23,-.11,.04,.11,.26],
[-.07,-.9,-.76,-.58,-.46,-.36,-.27,-.16,-.02,.08,.19,.32],
[-.08,-.85,-.71,-.63,-.52,-.4,-.28,-.19,-.06,.13,.25],
[-.09,-.94,-.77,-.55,-.43,-.32,-.21,-.09,.03,.17,.29,.34],
[-.1,-.99,-.82,-.66,-.6,-.47,-.37,-.24,-.12,0,.1,.22,.31],
[-.11,-.88,-.73,-.57,-.42,-.33,-.18,-.03,.07,.16,.27],
[-.12,-.93,-.79,-.69,-.51,-.39,-.26,-.14,-.07,.05,.2,.33],
[-.13,-.84,-.64,-.53,-.45,-.29,-.2,-.1,.02,.12,.24],
[-.14,-.97,-.75,-.6,-.48,-.35,-.23,-.15,-.01,.09,.18,.3],
[-.15,-.9,-.8,-.67,-.55,-.41,-.3,-.17,-.05,.14,.26],
[-.16,-.86,-.72,-.62,-.44,-.36,-.25,-.11,.04,.11,.21,.32],
[-.17,-.95,-.77,-.58,-.49,-.38,-.27,-.19,-.08,.06,.16,.28],
[-.18,-.82,-.68,-.52,-.4,-.31,-.13,-.02,.1,.23,.34],
[-.19,-.91,-.74,-.61,-.46,-.34,-.22,-.06,.08,.19,.29],
[-.2,-.98,-.85,-.7,-.56,-.43,-.28,-.16,0,.13,.25],
[-.21,-.87,-.66,-.5,-.37,-.24,-.12,.03,.17,.31],
[-.22,-.94,-.79,-.63,-.53,-.41,-.29,-.18,-.04,.1,.2,.27],
[-.23,-.83,-.72,-.59,-.47,-.35,-.21,-.09,.05,.15,.33],
[-.24,-.9,-.76,-.55,-.42,-.31,-.15,-.01,.12,.23],
[-.25,-.96,-.81,-.68,-.51,-.39,-.26,-.11,.07,.18,.3],
[-.26,-.86,-.73,-.6,-.45,-.33,-.2,-.06,.02,.14,.26],
[-.27,-.92,-.78,-.64,-.49,-.36,-.23,-.13,.09,.22,.34],
[-.28,-.84,-.7,-.57,-.43,-.3,-.17,-.03,.11,.28],
[-.29,-.97,-.75,-.62,-.52,-.38,-.25,-.08,.04,.19,.32],
[-.3,-.89,-.66,-.54,-.41,-.27,-.14,.01,.16,.24],
[-.31,-.81,-.72,-.59,-.46,-.34,-.19,-.05,.08,.21,.3],
[-.32,-.93,-.77,-.48,-.36,-.22,-.1,.06,.13,.27],
[-.33,-.86,-.63,-.55,-.42,-.29,-.16,-.02,.17,.34],
[-.34,-.96,-.74,-.6,-.44,-.31,-.12,.03,.1,.23],
[-.35,-.83,-.68,-.51,-.37,-.25,-.07,.07,.19,.29],
[-.36,-.91,-.79,-.57,-.4,-.2,-.09,.12,.25],
[-.37,-.87,-.71,-.61,-.47,-.33,-.15,0,.15,.32],
[-.38,-.98,-.65,-.53,-.38,-.27,-.11,.05,.21],
[-.39,-.82,-.73,-.58,-.43,-.23,-.04,.09,.28],
[-.4,-.93,-.76,-.49,-.35,-.18,-.06,.14,.34],
[-.41,-.85,-.62,-.55,-.41,-.28,-.13,.02,.18,.24],
[-.42,-.95,-.69,-.46,-.32,-.16,.06,.11,.31],
[-.43,-.88,-.75,-.59,-.39,-.24,-.08,.16,.26],
[-.44,-.8,-.63,-.51,-.36,-.19,-.02,.1,.22],
[-.45,-.92,-.72,-.56,-.44,-.29,-.12,.04,.2,.33],
[-.46,-.97,-.66,-.48,-.34,-.21,-.05,.13,.27],
[-.47,-.84,-.77,-.6,-.4,-.26,-.1,.08,.17],
[-.48,-.9,-.69,-.53,-.37,-.17,.01,.23,.3],
[-.49,-.86,-.74,-.58,-.45,-.3,-.14,.07,.15],
[-.5,-.95,-.64,-.5,-.33,-.23,-.07,.11,.25],
[-.51,-.81,-.71,-.55,-.42,-.27,-.03,.19,.34],
[-.52,-.91,-.61,-.46,-.31,-.15,.05,.12],
[-.53,-.87,-.76,-.52,-.38,-.2,-.09,.24,.31],
[-.54,-.98,-.67,-.57,-.41,-.28,-.01,.16],
[-.55,-.83,-.72,-.47,-.35,-.13,.03,.21],
[-.56,-.93,-.63,-.54,-.39,-.24,-.06,.09,.29],
[-.57,-.79,-.68,-.44,-.32,-.18,.02,.14],
[-.58,-.89,-.75,-.59,-.49,-.36,-.11,.18,.33],
[-.59,-.96,-.65,-.51,-.26,-.04,.1,.25],
[-.6,-.85,-.7,-.42,-.3,-.16,.06,.13],
[-.61,-.78,-.62,-.56,-.37,-.21,-.08,.22,.3],
[-.62,-.92,-.73,-.48,-.33,-.12,.04,.17],
[-.63,-.86,-.66,-.53,-.4,-.25,.01,.27],
[-.64,-.95,-.6,-.45,-.29,-.14,.08,.19],
[-.65,-.82,-.71,-.5,-.35,-.19,-.02,.33],
[-.66,-.9,-.64,-.41,-.23,-.06,.12,.24],
[-.67,-.77,-.57,-.46,-.31,-.15,.05],
[-.68,-.97,-.69,-.52,-.38,-.27,-.1,.16,.29],
[-.69,-.84,-.61,-.43,-.2,.02,.21],
[-.7,-.91,-.74,-.55,-.34,-.13,.09,.31],
[-.71,-.8,-.65,-.47,-.28,-.05,.14],
[-.72,-.88,-.59,-.4,-.22,-.09,.18,.26],
[-.73,-.94,-.68,-.51,-.36,-.16,.03],
[-.74,-.83,-.63,-.44,-.3,-.02,.11,.23],
[-.75,-.76,-.54,-.38,-.24,-.12,.07,.32],
[-.76,-.9,-.66,-.48,-.19,.15],
[-.77,-.86,-.6,-.42,-.33,-.07,.01,.2],
[-.78,-.97,-.72,-.53,-.26,-.11,.1,.28],
[-.79,-.79,-.64,-.45,-.35,-.04,.17],
[-.8,-.92,-.57,-.39,-.21,.05,.24],
[-.81,-.84,-.69,-.5,-.29,-.14,.12],
[-.82,-.75,-.62,-.43,-.17,.02,.3],
[-.83,-.88,-.55,-.37,-.25,-.08,.19],
[-.84,-.95,-.67,-.47,-.31,.07,.14],
[-.85,-.81,-.6,-.41,-.2,-.03,.22]
];

// the darkest clumps around prev = 1, same row layout
const coreRows = [
[.665,-.31,-.12,.09,.23],[.648,-.44,-.27,-.04,.18,.33],[.625,-.52,-.16,.02,.14,.28],[.605,-.37,-.23,.06,.22,.3],
[.585,-.47,-.29,-.09,.11,.19,.34],[.565,-.62,-.38,-.14,.01,.16,.24],[.545,-.51,-.24,-.07,.1,.26,.31],[.525,-.75,-.43,-.18,-.03,.15,.22,.28],
[.505,-.58,-.32,-.11,.04,.11,.2,.33],[.485,-.49,-.25,-.15,-.06,.07,.18,.23,.29],[.465,-.68,-.39,-.19,-.08,.03,.13,.26,.3],[.445,-.55,-.3,-.13,-.01,.1,.16,.24,.35],
[.425,-.44,-.26,-.17,-.05,.05,.19,.27],[.405,-.8,-.35,-.21,-.12,.02,.08,.22,.32],[.385,-.6,-.33,-.16,-.07,.12,.17,.29,.31],[.365,-.46,-.28,-.19,-.02,.04,.14,.21,.25],
[.345,-.7,-.41,-.23,-.11,.01,.09,.19,.27,.34],[.325,-.53,-.31,-.14,-.06,.06,.16,.22,.3],[.305,-.37,-.27,-.17,-.03,.03,.12,.18,.25,.33],[.285,-.65,-.45,-.21,-.1,.07,.15,.2,.28],
[.265,-.5,-.34,-.24,-.09,-.01,.1,.23,.31],[.245,-.78,-.39,-.19,-.13,.04,.13,.17,.26,.29],[.225,-.57,-.29,-.2,-.03,.08,.14,.21,.35],[.205,-.43,-.32,-.11,-.06,.02,.12,.25,.3],
[.185,-.69,-.47,-.23,-.15,-.02,.07,.16,.23,.27],[.165,-.54,-.35,-.17,-.08,.03,.11,.19,.33],[.145,-.41,-.28,-.19,-.03,.06,.14,.2,.28],[.125,-.72,-.45,-.25,-.12,.01,.09,.17,.3],
[.105,-.5,-.33,-.16,-.07,.04,.13,.24,.27],[.085,-.61,-.37,-.22,-.09,-.02,.1,.15,.21,.32],[.065,-.43,-.27,-.14,-.04,.03,.07,.18,.26],[.045,-.52,-.31,-.2,-.12,.01,.12,.23,.29],
[.025,-.7,-.39,-.24,-.07,.05,.14,.19,.33],[.005,-.47,-.29,-.18,-.01,.09,.16,.26],[-.015,-.34,-.22,-.13,.03,.07,.2,.28],[-.035,-.58,-.41,-.26,-.09,-.03,.11,.17,.31],
[-.055,-.46,-.33,-.16,-.06,.04,.13,.23],[-.075,-.74,-.38,-.21,.01,.08,.19,.27],[-.095,-.53,-.28,-.12,-.02,.1,.15,.3],[-.115,-.43,-.24,-.15,.02,.06,.2,.25],
[-.135,-.62,-.34,-.19,-.08,.04,.12,.28],[-.155,-.49,-.29,-.05,.07,.17,.22],[-.175,-.38,-.22,-.1,.01,.09,.26,.31],[-.195,-.57,-.31,-.14,-.03,.13,.19],
[-.215,-.45,-.25,-.07,.05,.11,.24],[-.235,-.33,-.17,-.02,.06,.16,.28],[-.255,-.52,-.27,-.12,.03,.14,.21],[-.275,-.41,-.2,-.05,.08,.18,.3],
[-.295,-.6,-.31,-.09,.01,.12,.25],[-.315,-.36,-.15,-.03,.07,.2],[-.335,-.47,-.24,-.06,.04,.16,.27],[-.355,-.29,-.11,.02,.13,.22],
[-.375,-.42,-.18,-.04,.09,.31],[-.395,-.33,-.07,.05,.17,.26]
];

// thinning edge of the cloud just right of the darkest part
const edgeRows = [
[.615,.36,.42,.51],[.575,.38,.45,.55],[.535,.36,.44,.48],[.495,.39,.46,.53],[.455,.37,.43,.51],[.415,.36,.41,.48,.56],
[.375,.38,.44,.52],[.335,.36,.43,.47],[.295,.39,.45,.54],[.255,.37,.41,.5],[.215,.36,.44,.52],[.175,.38,.47,.55],
[.135,.36,.41,.5],[.095,.37,.45,.48,.54],[.055,.39,.43,.52],[.015,.36,.41,.49],[-.025,.38,.46,.55],[-.075,.36,.42,.51],
[-.115,.39,.45,.54],[-.155,.37,.41,.49],[-.205,.36,.44,.53],[-.255,.38,.42,.5],[-.305,.36,.45,.52],[-.355,.39,.43,.48],
[-.405,.37,.46,.55],[-.445,.36,.41]
];

const vLines = [1, 1.8];
const xTicks = [0.1, 1, 10];
const yTicks = [1e-5, 1e-4, 1e-3, 1e-2, 1e-1, 1, 10];

// x readings assumed a 271.5 px decade, the axis turned out to have 269.7
const xCal = 271.5 / 269.7;
const fromLog = ([a, b]) => ({ x: 10 ** ((a + 1) * xCal - 1), y: 10 ** b });
const puntos = [...lowPoints, ...middlePoints, ...topPoints, ...rightPoints].map(fromLog);
[...denseRows, ...coreRows, ...edgeRows].forEach(row => {
  row.slice(1).forEach(lx => puntos.push(fromLog([lx, row[0]])));
});

const fuente = '"Liberation Sans", Arial, sans-serif';

function etiqueta(value) {
  const exp = Math.round(Math.log10(value));
  return '1e' + (exp < 0 ? '-' : '+') + Math.abs(exp);
}

// title and axis names go where the reference has them
const textos = {
  id: 'textos',
  afterDraw(chart) {
    const ctx = chart.ctx;
    ctx.save();
    ctx.fillStyle = '#000';
    ctx.textAlign = 'center';
    ctx.textBaseline = 'alphabetic';
    ctx.font = '100px ' + fuente;
    ctx.fillText('DS1', 506, 112);
    ctx.font = '68px ' + fuente;
    ctx.fillText('previous Δt', 557, 2238);
    ctx.translate(68, 1154);
    ctx.rotate(-Math.PI / 2);
    ctx.fillText('Δt', 0, 0);
    ctx.restore();
  }
};

const ejeComun = {
  type: 'logarithmic',
  border: { display: true, color: '#000', width: 6 },
  grid: { drawOnChartArea: false, drawTicks: true, tickLength: 10, tickWidth: 5, color: '#000' },
};

new Chart(document.getElementById('myChart'), {
  type: 'scatter',
  data: {
    datasets: [
      {
        data: puntos,
        pointRadius: 2.5,
        pointHoverRadius: 2.5,
        pointBackgroundColor: '#000',
        pointBorderWidth: 0,
        showLine: false,
      },
      ...vLines.map(v => ({
        type: 'line',
        data: [{ x: v, y: 1e-5 }, { x: v, y: 25 }],
        borderColor: '#000',
        borderWidth: 6,
        borderDash: [11, 7.58],
        pointRadius: 0,
        fill: false,
      })),
    ],
  },
  options: {
    responsive: false,
    animation: false,
    layout: { padding: { top: 212, right: 40, left: 0, bottom: 0 } },
    plugins: { legend: { display: false }, tooltip: { enabled: false }, title: { display: false } },
    scales: {
      x: {
        ...ejeComun,
        min: 0.1,
        max: 25,
        afterBuildTicks: axis => { axis.ticks = xTicks.map(value => ({ value })); },
        afterFit: axis => { axis.height = 268; },
        ticks: {
          color: '#000',
          font: { family: fuente, size: 65 },
          padding: 6,
          maxRotation: 0,
          autoSkip: false,
          callback: etiqueta,
        },
      },
      y: {
        ...ejeComun,
        min: 1e-5,
        max: 24.6,
        afterBuildTicks: axis => { axis.ticks = yTicks.map(value => ({ value })); },
        afterFit: axis => { axis.width = 315; },
        ticks: {
          color: '#000',
          font: { family: fuente, size: 65 },
          padding: 7,
          labelOffset: 4,
          autoSkip: false,
          callback: etiqueta,
        },
      },
    },
  },
  plugins: [textos],
});
</script>
</body>
</html>
